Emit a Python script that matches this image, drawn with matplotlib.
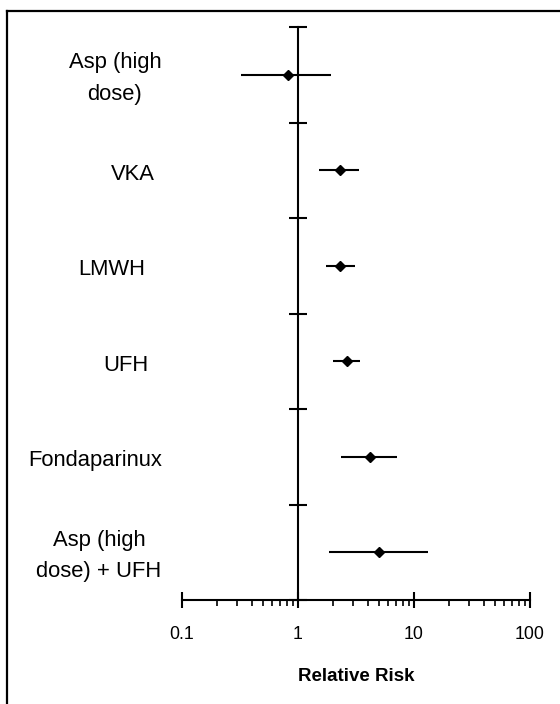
import matplotlib
matplotlib.use("Agg")
import matplotlib.pyplot as plt
import matplotlib.transforms as mtransforms
from matplotlib.lines import Line2D
from matplotlib.ticker import LogLocator, FixedLocator, NullFormatter
import numpy as np

plt.rcParams["font.family"] = ["Liberation Sans", "DejaVu Sans"]

TREATMENTS = ["Asp (high\ndose)", "VKA", "LMWH", "UFH", "Fondaparinux", "Asp (high\ndose) + UFH"]
RR = [0.82, 2.30, 2.30, 2.66, 4.18, 4.96]
CI_LOW = [0.32, 1.52, 1.73, 1.99, 2.36, 1.86]
CI_HIGH = [1.91, 3.34, 3.10, 3.44, 7.09, 13.2]
X_TICKS = [0.1, 1, 10, 100]
X_TICK_LABELS = ["0.1", "1", "10", "100"]

# horizontal centre of each row label, in figure pixels
LABEL_X = [115, 133, 112, 126, 95, 99]

W, H = 560, 704
fig = plt.figure(figsize=(W / 100, H / 100), dpi=100)
ax = fig.add_axes([182 / W, 1 - 600 / H, (530 - 182) / W, (600 - 27) / H])

n = len(TREATMENTS)
ypos = np.arange(n)[::-1] + 0.5

rr = np.array(RR)
err = [rr - np.array(CI_LOW), np.array(CI_HIGH) - rr]
ax.errorbar(rr, ypos, xerr=err, fmt="D", color="black", ecolor="black",
            elinewidth=1.5, capsize=0, markersize=5.5, zorder=3)

ax.set_xscale("log")
ax.set_xlim(0.1, 100)
ax.set_ylim(0, n)

# left spine becomes the line of no effect at RR = 1
ax.spines["left"].set_position(("data", 1))
ax.spines["right"].set_visible(False)
ax.spines["top"].set_visible(False)
for s in ("left", "bottom"):
    ax.spines[s].set_linewidth(1.5)

ax.yaxis.set_major_locator(FixedLocator(np.arange(n + 1)))
ax.yaxis.set_major_formatter(NullFormatter())
ax.tick_params(axis="y", direction="inout", length=13, width=1.5)

ax.set_xticks(X_TICKS)
ax.set_xticklabels(X_TICK_LABELS, fontsize=12.8)
ax.xaxis.set_minor_locator(LogLocator(base=10, subs=np.arange(2, 10)))
ax.xaxis.set_minor_formatter(NullFormatter())
ax.tick_params(axis="x", which="major", direction="inout", length=12, width=1.5, pad=13)
ax.tick_params(axis="x", which="minor", direction="out", length=4, width=1.2)
ax.set_xlabel("Relative Risk", fontsize=13.5, fontweight="bold", labelpad=18)

trans = mtransforms.blended_transform_factory(fig.transFigure, ax.transData)
for label, x, y in zip(TREATMENTS, LABEL_X, ypos):
    ax.text(x / W, y - 0.04, label, transform=trans, ha="center", va="center",
            multialignment="center", fontsize=15.8, linespacing=1.65)

# outer frame (only top and left edges fall inside the image)
fig.add_artist(Line2D([6.5 / W, 6.5 / W], [0, 1 - 11 / H], color="black", lw=1.6))
fig.add_artist(Line2D([6.5 / W, 1], [1 - 11 / H, 1 - 11 / H], color="black", lw=1.6))

fig.savefig("out.png", dpi=100)
